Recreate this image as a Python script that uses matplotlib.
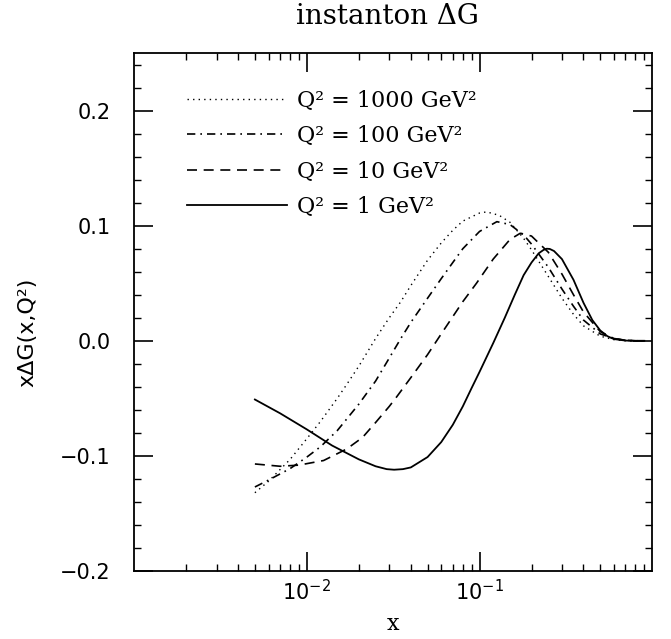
import matplotlib
matplotlib.use("Agg")
import matplotlib.pyplot as plt
from matplotlib.ticker import LogLocator, MultipleLocator, FixedLocator

# Curve data (x, x*DeltaG)
x_q1 = [0.005, 0.007, 0.01, 0.014, 0.02, 0.025, 0.029, 0.032, 0.036, 0.04, 0.05,
        0.06, 0.07, 0.08, 0.09, 0.1, 0.12, 0.14, 0.16, 0.18, 0.2, 0.22, 0.235,
        0.245, 0.255, 0.27, 0.3, 0.35, 0.4, 0.45, 0.5, 0.55, 0.6, 0.7, 0.8, 0.9]
y_q1 = [-0.051, -0.063, -0.077, -0.091, -0.103, -0.109, -0.1115, -0.112, -0.1115,
        -0.110, -0.101, -0.088, -0.073, -0.057, -0.041, -0.027, -0.002, 0.020,
        0.040, 0.057, 0.068, 0.076, 0.0790, 0.080, 0.0798, 0.078, 0.071, 0.053,
        0.033, 0.018, 0.009, 0.004, 0.0015, 0.0002, 0.0, 0.0]

x_q10 = [0.005, 0.007, 0.009, 0.0125, 0.017, 0.021, 0.025, 0.03, 0.033, 0.04,
         0.05, 0.06, 0.07, 0.08, 0.096, 0.12, 0.15, 0.172, 0.2, 0.25, 0.3, 0.35,
         0.4, 0.5, 0.6, 0.7, 0.8, 0.9]
y_q10 = [-0.107, -0.109, -0.108, -0.104, -0.094, -0.084, -0.071, -0.057, -0.049,
         -0.032, -0.012, 0.006, 0.021, 0.034, 0.050, 0.071, 0.088, 0.0934, 0.091,
         0.077, 0.058, 0.040, 0.025, 0.008, 0.002, 0.0005, 0.0, 0.0]

x_q100 = [0.005, 0.006, 0.008, 0.01, 0.012, 0.015, 0.02, 0.025, 0.03, 0.035,
          0.04, 0.05, 0.06, 0.07, 0.08, 0.1, 0.126, 0.15, 0.18, 0.2, 0.25, 0.3,
          0.35, 0.4, 0.5, 0.6, 0.7, 0.8, 0.9]
y_q100 = [-0.127, -0.121, -0.111, -0.101, -0.092, -0.078, -0.055, -0.035, -0.015,
          0.002, 0.016, 0.037, 0.054, 0.068, 0.080, 0.095, 0.1035, 0.101, 0.092,
          0.084, 0.064, 0.045, 0.030, 0.018, 0.006, 0.002, 0.0005, 0.0, 0.0]

x_q1000 = [0.005, 0.006, 0.008, 0.01, 0.012, 0.015, 0.017, 0.02, 0.025, 0.03,
           0.035, 0.04, 0.05, 0.06, 0.07, 0.08, 0.1, 0.11, 0.13, 0.15, 0.18, 0.2,
           0.25, 0.3, 0.35, 0.4, 0.5, 0.6, 0.7, 0.8, 0.9]
y_q1000 = [-0.132, -0.122, -0.103, -0.085, -0.070, -0.050, -0.038, -0.022, 0.002,
           0.020, 0.034, 0.048, 0.070, 0.085, 0.096, 0.104, 0.111, 0.112, 0.109,
           0.103, 0.089, 0.079, 0.056, 0.037, 0.023, 0.013, 0.004, 0.001, 0.0,
           0.0, 0.0]

labels = ["Q² = 1000 GeV²", "Q² = 100 GeV²", "Q² = 10 GeV²", "Q² = 1 GeV²"]

fig = plt.figure(figsize=(6.71, 6.39), dpi=100)
ax = fig.add_axes([0.2, 0.1064, 0.772, 0.8106])

ax.plot(x_q1000, y_q1000, color="k", lw=1.0, dashes=(1, 3), label=labels[0])
ax.plot(x_q100, y_q100, color="k", lw=1.2, dashes=(5, 3, 1, 3), label=labels[1])
ax.plot(x_q10, y_q10, color="k", lw=1.2, dashes=(6, 4), label=labels[2])
ax.plot(x_q1, y_q1, color="k", lw=1.3, label=labels[3])

ax.set_xscale("log")
ax.set_xlim(1e-3, 1.0)
ax.set_ylim(-0.2, 0.25)

ax.xaxis.set_major_locator(FixedLocator([1e-2, 1e-1]))
ax.xaxis.set_minor_locator(LogLocator(base=10, subs=range(2, 10), numticks=20))
ax.set_xticklabels([r"$10^{-2}$", r"$10^{-1}$"])
ax.yaxis.set_major_locator(FixedLocator([-0.2, -0.1, 0.0, 0.1, 0.2]))
ax.yaxis.set_minor_locator(MultipleLocator(0.02))
ax.set_yticklabels(["−0.2", "−0.1", "0.0", "0.1", "0.2"])

ax.tick_params(which="both", direction="in", top=True, right=True, color="k")
ax.tick_params(which="major", length=14, width=1.2, labelsize=15)
ax.tick_params(axis="y", which="major", pad=17)
ax.tick_params(axis="x", which="major", pad=6)
ax.tick_params(which="minor", length=5, width=1.0)
for sp in ax.spines.values():
    sp.set_linewidth(1.3)

ax.set_xlabel("x", fontsize=16, family="DejaVu Serif")
ax.xaxis.set_label_coords(0.5, -0.082)
ax.set_ylabel("xΔG(x,Q²)", fontsize=16)
ax.yaxis.set_label_coords(-0.186, 0.46)

fig.text(0.577, 0.974, "instanton ΔG", fontsize=20, family="DejaVu Serif",
         ha="center", va="center")

ax.legend(loc="upper left", bbox_to_anchor=(0.102, 0.9295), frameon=False,
          handlelength=4.5, handletextpad=0.45, labelspacing=0.61,
          borderpad=0, borderaxespad=0,
          prop={"family": "DejaVu Serif", "size": 16})

fig.savefig("out.png", dpi=100)
